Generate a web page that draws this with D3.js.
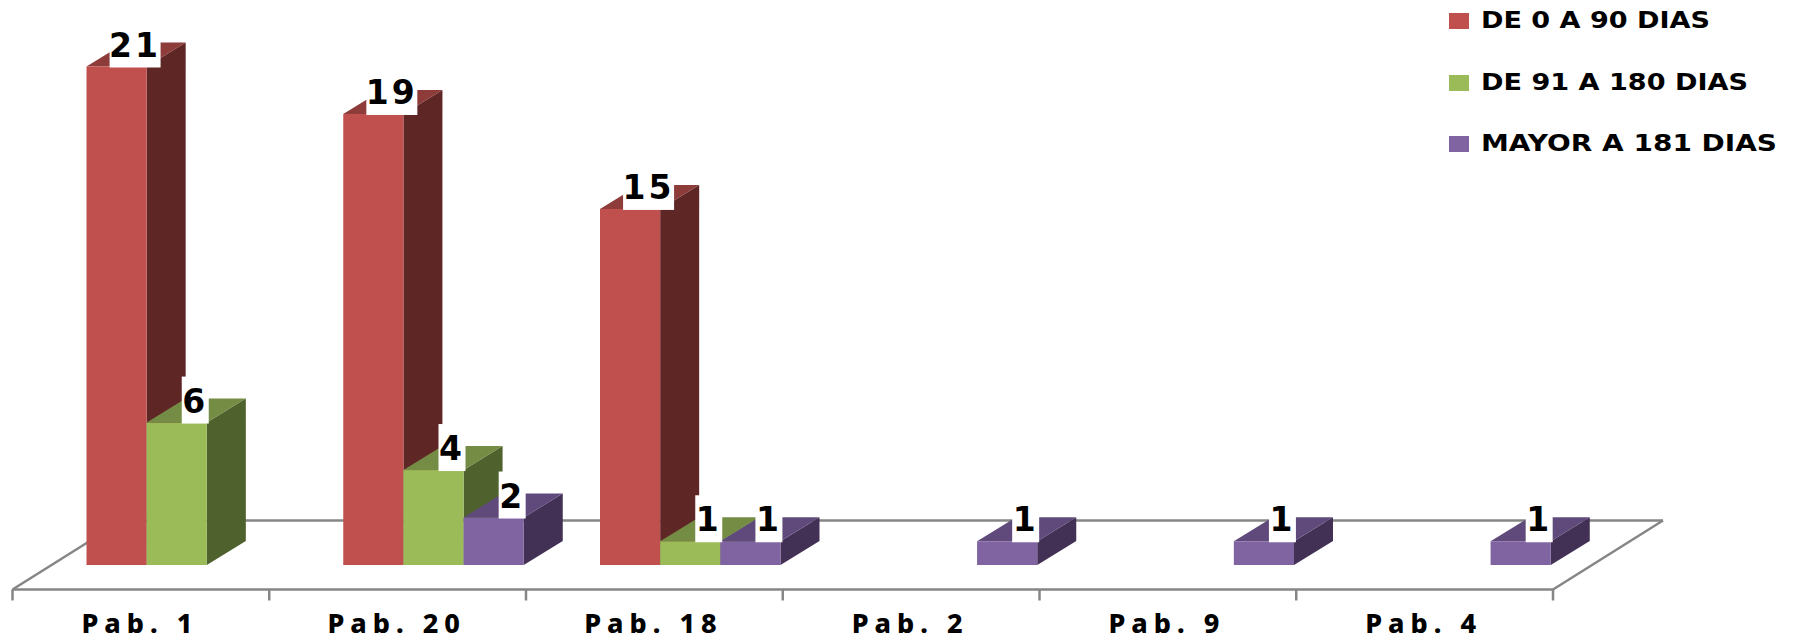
<!DOCTYPE html>
<html><head><meta charset="utf-8">
<script src="https://cdn.jsdelivr.net/npm/d3@7/dist/d3.min.js"></script>
<style>html,body{margin:0;padding:0;background:#fff}svg{display:block}text{font-family:"DejaVu Sans",sans-serif;font-weight:bold;fill:#000}</style>
</head><body><svg id="c" width="1798" height="644"></svg>
<script>
const categories = ["Pab. 1","Pab. 20","Pab. 18","Pab. 2","Pab. 9","Pab. 4"];
const seriesNames = ["DE 0 A 90 DIAS","DE 91 A 180 DIAS","MAYOR A 181 DIAS"];
const red = [21,19,15,null,null,null];
const green = [6,4,1,null,null,null];
const purple = [null,2,1,1,1,1];
const faceColors = ["#C0504D","#9BBB59","#8064A2"];
const sideColors = ["#5F2626","#4F612C","#423155"];
const topColors = ["#8E3C3A","#748C44","#604A7B"];
const seriesValues = [red,green,purple];

const svg = d3.select("#c");
const floorLeft = 12.5, floorRight = 1553;
const floorFront = 589.5, floorDX = 110, floorDY = -69;
const depthDX = 39, depthDY = -24;
const x0 = d3.scaleBand().domain(categories).range([floorLeft,floorRight]);
const x1 = d3.scaleBand().domain(seriesNames).range([74,254.5]);
const y = d3.scaleLinear().domain([0,21]).range([565,66.5]);
const axisColor = "#868686";
const L = ([a,b,c,d]) => svg.append("line").attr("x1",a).attr("y1",b).attr("x2",c).attr("y2",d)
  .attr("stroke",axisColor).attr("stroke-width",2.5);

// floor
L([floorLeft,floorFront,floorLeft+floorDX,floorFront+floorDY]);
L([floorLeft+floorDX,floorFront+floorDY,floorRight+floorDX,floorFront+floorDY]);
L([floorRight,floorFront,floorRight+floorDX,floorFront+floorDY]);

// bars
const pts = a => a.map(p=>p.join(",")).join(" ");
const labels = [];
categories.forEach((cat,i)=>{
  seriesNames.forEach((s,j)=>{
    const v = seriesValues[j][i];
    if(v==null) return;
    const xa = x0(cat)+x1(s), xb = xa+x1.bandwidth(), yt = y(v), yb = y(0);
    const g = svg.append("g");
    g.append("polygon").attr("fill",sideColors[j])
      .attr("points",pts([[xb,yt],[xb+depthDX,yt+depthDY],[xb+depthDX,yb+depthDY],[xb,yb]]));
    g.append("polygon").attr("fill",topColors[j])
      .attr("points",pts([[xa,yt],[xa+depthDX,yt+depthDY],[xb+depthDX,yt+depthDY],[xb,yt]]));
    g.append("rect").attr("fill",faceColors[j]).attr("x",xa).attr("y",yt).attr("width",xb-xa).attr("height",yb-yt);
    labels.push({v,cx:(xa+xb+depthDX)/2-1,yt});
  });
});

// axis line and ticks
L([floorLeft,floorFront,floorRight,floorFront]);
d3.range(categories.length+1).forEach(k=>{
  const tx = floorLeft+k*x0.step();
  L([tx,floorFront,tx,floorFront+11]);
});
categories.forEach(cat=>{
  svg.append("text").attr("x",x0(cat)+x0.bandwidth()/2-1).attr("y",633)
    .attr("text-anchor","middle").attr("font-size",27).style("font-family","'Noto Sans'").style("font-weight",800).style("letter-spacing","6px").text(cat);
});

// value labels
labels.forEach(d=>{
  const w = String(d.v).length===2 ? 51 : 27;
  svg.append("rect").attr("fill","#fff").attr("x",d.cx-w/2).attr("y",d.yt-46).attr("width",w).attr("height",47);
  svg.append("text").attr("x",d.cx).attr("y",d.yt-10)
    .attr("text-anchor","middle").attr("font-size",33).style("letter-spacing","3px").text(d.v);
});

// legend
seriesNames.forEach((s,j)=>{
  const ly = [21,83,144][j];
  svg.append("rect").attr("x",1449).attr("y",ly-8).attr("width",20).attr("height",16).attr("fill",faceColors[j]);
  svg.append("text").attr("x",1481).attr("y",ly+7).attr("font-size",23).attr("textLength",[229,267,296][j]).attr("lengthAdjust","spacingAndGlyphs").text(s);
});
</script></body></html>
